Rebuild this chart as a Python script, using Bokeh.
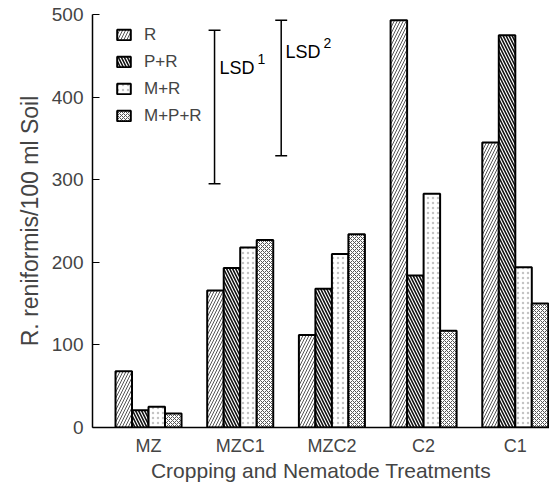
from bokeh.plotting import figure
from bokeh.models import Range1d, FixedTicker, Legend, LegendItem, ColumnDataSource
from bokeh.core.properties import value
from bokeh.embed import file_html
from bokeh.resources import INLINE

categories = ["MZ", "MZC1", "MZC2", "C2", "C1"]
series_names = ["R", "P+R", "M+R", "M+P+R"]
r_vals = [68, 166, 112, 493, 345]
pr_vals = [21, 193, 168, 184, 475]
mr_vals = [25, 218, 210, 283, 194]
mpr_vals = [17, 227, 234, 117, 150]
y_ticks = [0, 100, 200, 300, 400, 500]
lsd_names = ["LSD", "LSD"]
lsd_sups = ["1", "2"]
lsd_low = [295, 329]
lsd_high = [481, 493]

FONT = "'Liberation Sans', Arial, sans-serif"

p = figure(width=549, height=498, output_backend="svg", toolbar_location=None,
           x_range=Range1d(0.389, 5.373), y_range=Range1d(0, 500),
           min_border_left=92, min_border_right=0, min_border_top=14, min_border_bottom=71)
p.outline_line_color = None
p.xgrid.visible = False
p.ygrid.visible = False
p.background_fill_color = "white"

bw = 0.18
xs = [i + 1 for i in range(len(categories))]
series = [r_vals, pr_vals, mr_vals, mpr_vals]
styles = [
    dict(hatch_pattern="/", hatch_color="#555555", hatch_scale=6, hatch_weight=1.0),
    dict(hatch_pattern="\\", hatch_color="#111111", hatch_scale=6, hatch_weight=1.6),
    dict(hatch_pattern=".", hatch_color="#c4c4c4", hatch_scale=5, hatch_weight=0.5),
    dict(hatch_pattern="x", hatch_color="#555555", hatch_scale=4, hatch_weight=1.0),
]
renderers = []
for k, (vals, st) in enumerate(zip(series, styles)):
    off = (k - 1.5) * bw
    src = ColumnDataSource(dict(x=[x + off for x in xs], top=vals))
    r = p.vbar(x="x", top="top", bottom=0, width=bw, source=src,
               fill_color="white", line_color="black", line_width=2, **st)
    renderers.append(r)

# LSD bars
cap = 0.065
lsd_x = [1.72, 2.447]
p.segment(x0=lsd_x, y0=lsd_low, x1=lsd_x, y1=lsd_high, line_color="black", line_width=1.5)
p.segment(x0=[x - cap for x in lsd_x], y0=lsd_low, x1=[x + cap for x in lsd_x], y1=lsd_low,
          line_color="black", line_width=1.5)
p.segment(x0=[x - cap for x in lsd_x], y0=lsd_high, x1=[x + cap for x in lsd_x], y1=lsd_high,
          line_color="black", line_width=1.5)
lsd_text_x = [1.774, 2.494]
lsd_text_y = [435, 455]
p.text(x=lsd_text_x, y=lsd_text_y, text=lsd_names, text_font=value(FONT),
       text_font_size="18px", text_baseline="middle", text_align="left", text_color="black")
p.text(x=lsd_text_x, y=lsd_text_y, text=lsd_sups, text_font=value(FONT),
       text_font_size="14px", text_baseline="middle", text_align="left", text_color="black",
       x_offset=38, y_offset=-9)

legend = Legend(items=[LegendItem(label=n, renderers=[r]) for n, r in zip(series_names, renderers)],
                location=(23, 301), orientation="vertical")
legend.padding = 0
legend.margin = 0
legend.spacing = 6
legend.glyph_width = 17
legend.glyph_height = 13
legend.label_height = 21
legend.label_standoff = 12
legend.label_text_font = FONT
legend.label_text_font_size = "17px"
legend.background_fill_alpha = 0
legend.border_line_alpha = 0
p.add_layout(legend)

# axes
p.yaxis.ticker = FixedTicker(ticks=y_ticks)
p.yaxis.major_tick_in = 7
p.yaxis.major_tick_out = 0
p.yaxis.minor_tick_line_color = None
p.yaxis.major_label_standoff = 9
p.yaxis.major_label_text_font = FONT
p.yaxis.major_label_text_font_size = "19px"
p.yaxis.axis_line_width = 1.5
p.yaxis.axis_label = "R. reniformis/100 ml Soil"
p.yaxis.axis_label_text_font = FONT
p.yaxis.axis_label_text_font_size = "23px"
p.yaxis.axis_label_text_font_style = "normal"
p.yaxis.axis_label_standoff = 6

p.xaxis.ticker = FixedTicker(ticks=xs)
p.xaxis.major_label_overrides = {x: c for x, c in zip(xs, categories)}
p.xaxis.major_tick_line_color = None
p.xaxis.minor_tick_line_color = None
p.xaxis.major_label_standoff = 2
p.xaxis.major_label_text_font = FONT
p.xaxis.major_label_text_font_size = "18px"
p.xaxis.axis_line_width = 1.5
p.xaxis.axis_label = "Cropping and Nematode Treatments"
p.xaxis.axis_label_text_font = FONT
p.xaxis.axis_label_text_font_size = "21px"
p.xaxis.axis_label_text_font_style = "normal"
p.xaxis.axis_label_standoff = 0

open("out.html", "w").write(file_html(p, INLINE))
